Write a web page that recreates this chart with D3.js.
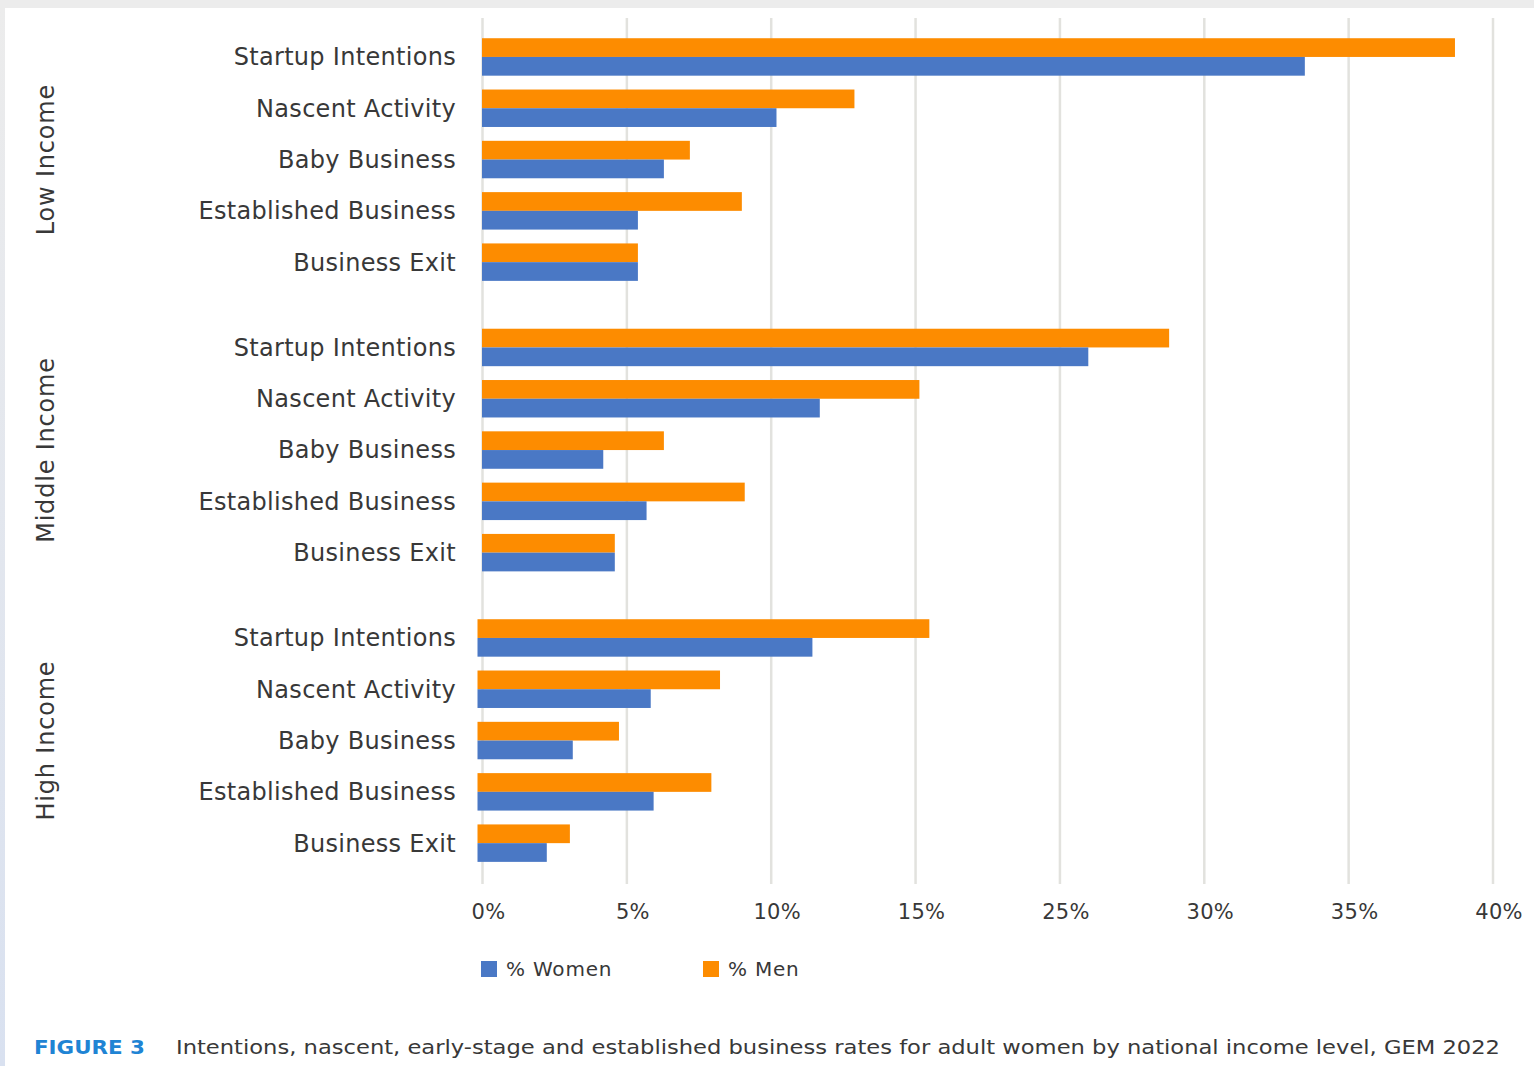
<!DOCTYPE html>
<html>
<head>
<meta charset="utf-8">
<script src="https://cdn.jsdelivr.net/npm/d3@7"></script>
<style>
  html, body { margin: 0; padding: 0; background: #ececec; }
  svg { display: block; }
</style>
</head>
<body>
<svg id="chart" width="1534" height="1066"></svg>
<script>
// Entrepreneurship rates by income group, women vs men (GEM 2022)
const incomeGroups = ["Low Income", "Middle Income", "High Income"];
const categories = ["Startup Intentions", "Nascent Activity", "Baby Business", "Established Business", "Business Exit"];

const menLow      = [38.7, 12.9, 7.2, 9.0, 5.4];
const womenLow    = [33.5, 10.2, 6.3, 5.4, 5.4];
const menMiddle   = [28.8, 15.3, 6.3, 9.1, 4.6];
const womenMiddle = [26.0, 11.7, 4.2, 5.7, 4.6];
const menHigh     = [16.3, 8.4, 4.9, 8.1, 3.2];
const womenHigh   = [11.6, 6.0, 3.3, 6.1, 2.4];

const tickValues = [0, 5, 10, 15, 25, 30, 35, 40];
const seriesNames = ["% Women", "% Men"];
const seriesColors = { "% Women": "#4a78c5", "% Men": "#fd8c00" };

const rows = [
  { group: "Low Income",    men: menLow,    women: womenLow,    shift: 0 },
  { group: "Middle Income", men: menMiddle, women: womenMiddle, shift: 0 },
  { group: "High Income",   men: menHigh,   women: womenHigh,   shift: -4.5 }
];

const svg = d3.select("#chart");
const font = "'DejaVu Sans', 'Noto Sans', sans-serif";
const textColor = "#383838";

// white panel
svg.append("rect").attr("x", 5).attr("y", 8).attr("width", 1529).attr("height", 1058).attr("fill", "#ffffff");
const grad = svg.append("defs").append("linearGradient").attr("id", "edge").attr("x1", 0).attr("y1", 0).attr("x2", 0).attr("y2", 1);
grad.append("stop").attr("offset", "0%").attr("stop-color", "#ececec");
grad.append("stop").attr("offset", "100%").attr("stop-color", "#d9e1f0");
svg.append("rect").attr("x", 0).attr("y", 8).attr("width", 5).attr("height", 1058).attr("fill", "url(#edge)");

// horizontal scale: tick labels step 0,5,10,15 then 25..40 over evenly spaced gridlines
const x0 = 482, step = (1492.5 - 482) / 7;
const x = d3.scaleLinear()
  .domain([0, 15, 25, 40])
  .range([x0, x0 + 3 * step, x0 + 4 * step, x0 + 7 * step]);

const gridTop = 18, gridBottom = 884;

const axis = svg.append("g")
  .attr("transform", `translate(0,${gridBottom})`)
  .call(d3.axisBottom(x).tickValues(tickValues).tickFormat(d => d + "%")
    .tickSize(-(gridBottom - gridTop)).tickPadding(0));
axis.select(".domain").remove();
axis.selectAll(".tick line").attr("stroke", "#e2e2de").attr("stroke-width", 2.5);
axis.selectAll(".tick text")
  .attr("y", 28)
  .attr("dx", 6)
  .attr("dy", "0.35em")
  .attr("fill", textColor)
  .style("font-family", font)
  .style("font-size", "21px")
  .style("letter-spacing", "0.3px");

// vertical layout: income groups, categories within groups, series within categories
const yGroup = d3.scaleBand()
  .domain(incomeGroups)
  .range([31.3, 31.3 + 3 * 256.5 + 2 * 34])
  .paddingInner(34 / 290.5)
  .paddingOuter(0);

const yCat = d3.scaleBand()
  .domain(categories)
  .range([0, yGroup.bandwidth()])
  .paddingInner(0.27)
  .paddingOuter(0.135);

const ySeries = d3.scaleBand()
  .domain(["% Men", "% Women"])
  .range([0, yCat.bandwidth()]);

rows.forEach(r => {
  const g = svg.append("g").attr("transform", `translate(0,${yGroup(r.group)})`);

  // rotated group title
  g.append("text")
    .attr("transform", `translate(46,${yGroup.bandwidth() / 2}) rotate(-90)`)
    .attr("text-anchor", "middle")
    .attr("dy", "0.35em")
    .attr("fill", textColor)
    .style("font-family", font)
    .style("font-size", "24px")
    .style("letter-spacing", "0.8px")
    .text(r.group);

  // category labels
  g.selectAll("text.cat")
    .data(categories)
    .join("text")
    .attr("class", "cat")
    .attr("x", 456)
    .attr("y", d => yCat(d) + yCat.bandwidth() / 2)
    .attr("text-anchor", "end")
    .attr("dy", "0.35em")
    .attr("fill", textColor)
    .style("font-family", font)
    .style("font-size", "24px")
    .style("letter-spacing", "0.3px")
    .text(d => d);

  const bars = g.append("g").attr("transform", `translate(${r.shift},0)`);
  categories.forEach((c, i) => {
    [["% Men", r.men[i]], ["% Women", r.women[i]]].forEach(([s, v]) => {
      bars.append("rect")
        .attr("x", x(0))
        .attr("y", yCat(c) + ySeries(s))
        .attr("width", x(v) - x(0))
        .attr("height", ySeries.bandwidth())
        .attr("fill", seriesColors[s]);
    });
  });
});

// legend
const legend = svg.append("g").attr("transform", "translate(481,961)");
const legendX = { "% Women": 0, "% Men": 222 };
seriesNames.forEach(s => {
  const lg = legend.append("g").attr("transform", `translate(${legendX[s]},0)`);
  lg.append("rect").attr("width", 16).attr("height", 16).attr("fill", seriesColors[s]);
  lg.append("text")
    .attr("x", 25).attr("y", 8).attr("dy", "0.35em")
    .attr("fill", textColor)
    .style("font-family", font)
    .style("font-size", "20px")
    .style("letter-spacing", "0.8px")
    .text(s);
});

// caption
svg.append("text")
  .attr("x", 34).attr("y", 1047).attr("dy", "0.35em")
  .attr("fill", "#1f84d4")
  .style("font-family", font)
  .style("font-size", "20px")
  .style("font-weight", "bold")
  .attr("textLength", 111)
  .attr("lengthAdjust", "spacingAndGlyphs")
  .text("FIGURE 3");
svg.append("text")
  .attr("x", 176).attr("y", 1047).attr("dy", "0.35em")
  .attr("fill", textColor)
  .style("font-family", font)
  .style("font-size", "20px")
  .attr("textLength", 1324)
  .attr("lengthAdjust", "spacingAndGlyphs")
  .text("Intentions, nascent, early-stage and established business rates for adult women by national income level, GEM 2022");
</script>
</body>
</html>
